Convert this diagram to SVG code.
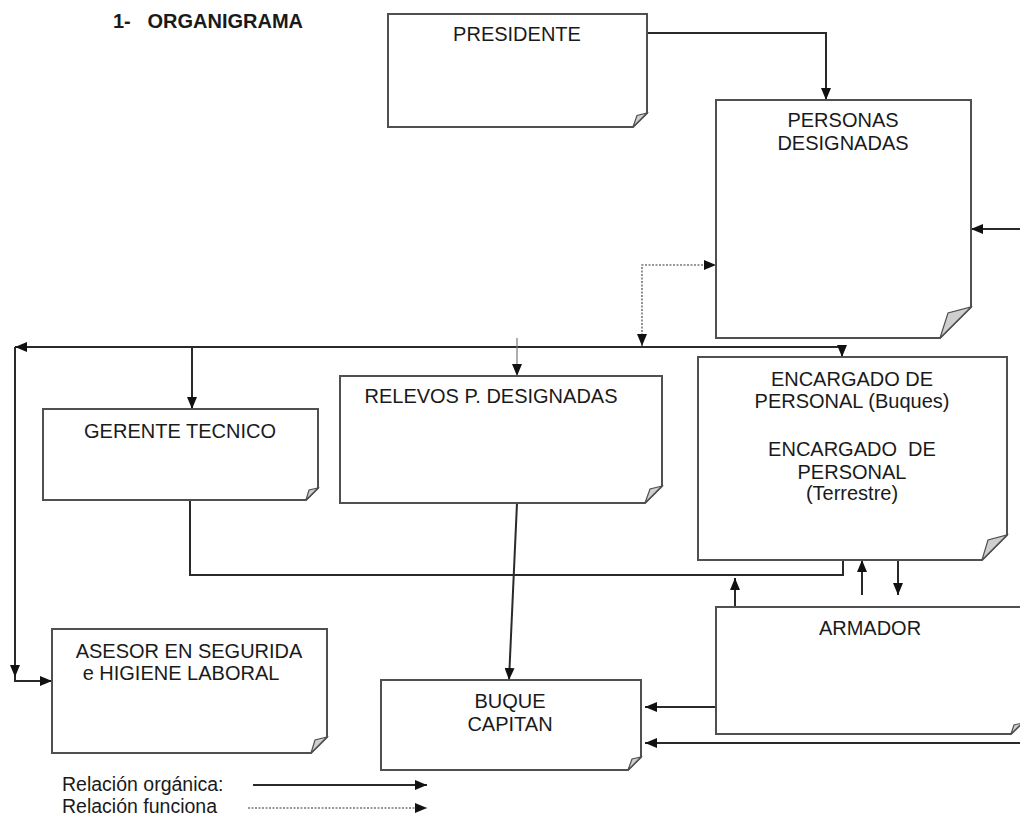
<svg xmlns="http://www.w3.org/2000/svg" width="1020" height="818" viewBox="0 0 1020 818">
<defs>
<style>
.box{fill:#fff;stroke:#505050;stroke-width:2;stroke-linejoin:miter}
.fold{fill:#cfcfcf;stroke:#505050;stroke-width:1.2}
.t{font-family:"Liberation Sans",Arial,sans-serif;font-size:20px;fill:#1a1a1a;text-anchor:middle}
.lg{font-family:"Liberation Sans",Arial,sans-serif;font-size:19.5px;fill:#1a1a1a}
.c{fill:none;stroke:#2a2a2a;stroke-width:2}
.thin{fill:none;stroke:#777;stroke-width:1.2}
.dot{fill:none;stroke:#777;stroke-width:1.6;stroke-dasharray:2 1.5}
</style>
<marker id="ah" markerUnits="userSpaceOnUse" markerWidth="12" markerHeight="10" viewBox="0 0 12 10" refX="12" refY="5" orient="auto-start-reverse">
<path d="M0,0 L12,5 L0,10 Z" fill="#111"/>
</marker>
</defs>
<rect width="1020" height="818" fill="#fff"/>
<text x="113" y="28" style="font-family:'Liberation Sans',Arial,sans-serif;font-size:20px;font-weight:bold;fill:#1a1a1a" xml:space="preserve">1-   ORGANIGRAMA</text>

<g id="connectors">
<path class="c" d="M647,33 H826 V100" marker-end="url(#ah)"/>
<path class="c" d="M1020,229 H971" marker-end="url(#ah)"/>
<path class="dot" d="M642,346 V265 H716" marker-start="url(#ah)" marker-end="url(#ah)"/>
<path class="c" d="M842,347 H15" marker-end="url(#ah)"/>
<path class="c" d="M15,347 V677" marker-end="url(#ah)"/>
<path class="c" d="M15,677 V681 H52" marker-end="url(#ah)"/>
<path class="c" d="M192,347 V409" marker-end="url(#ah)"/>
<path class="c" d="M842,347 V357" marker-end="url(#ah)"/>
<path class="thin" d="M517,338 V376" marker-end="url(#ah)"/>
<path class="c" d="M190,500 V575 H843 V560"/>
<path class="c" d="M517,503 L509,680" marker-end="url(#ah)"/>
<path class="c" d="M862,595 V560" marker-end="url(#ah)"/>
<path class="c" d="M898,560 V595" marker-end="url(#ah)"/>
<path class="c" d="M735,613 V578" marker-end="url(#ah)"/>
<path class="c" d="M716,707 H645" marker-end="url(#ah)"/>
<path class="c" d="M1020,743 H645" marker-end="url(#ah)"/>
</g>

<g id="presidente">
<path class="box" d="M388,14 H647 V113 L633,127 H388 Z"/>
<polygon class="fold" points="633,127 647,113 637,115.5"/>
<text class="t" x="517" y="41">PRESIDENTE</text>
</g>

<g id="personas">
<path class="box" d="M716,100 H971 V307 L940,338 H716 Z"/>
<polygon class="fold" points="940,338 971,307 948,313"/>
<text class="t" x="843" y="127">PERSONAS</text>
<text class="t" x="843" y="150">DESIGNADAS</text>
</g>

<g id="gerente">
<path class="box" d="M43,409 H318 V488 L306,500 H43 Z"/>
<polygon class="fold" points="306,500 318,488 309,490"/>
<text class="t" x="180" y="438">GERENTE TECNICO</text>
</g>

<g id="relevos">
<path class="box" d="M340,376 H662 V486 L645,503 H340 Z"/>
<polygon class="fold" points="645,503 662,486 650,489"/>
<text class="t" x="491" y="403">RELEVOS P. DESIGNADAS</text>
</g>

<g id="encargado">
<path class="box" d="M698,357 H1007 V535 L982,560 H698 Z"/>
<polygon class="fold" points="982,560 1007,535 988,540"/>
<text class="t" x="852" y="386">ENCARGADO DE</text>
<text class="t" x="852" y="408">PERSONAL (Buques)</text>
<text class="t" x="852" y="456" xml:space="preserve">ENCARGADO  DE</text>
<text class="t" x="852" y="479">PERSONAL</text>
<text class="t" x="852" y="500">(Terrestre)</text>
</g>

<g id="armador">
<path class="box" d="M716,607 H1022 V723 L1011,734 H716 Z"/>
<polygon class="fold" points="1011,734 1022,723 1014,725"/>
<text class="t" x="870" y="635">ARMADOR</text>
</g>

<g id="asesor">
<path class="box" d="M52,629 H327 V737 L311,753 H52 Z"/>
<polygon class="fold" points="311,753 327,737 315,740"/>
<text class="t" x="189" y="658">ASESOR EN SEGURIDA</text>
<text class="t" x="181" y="680">e HIGIENE LABORAL</text>
</g>

<g id="buque">
<path class="box" d="M381,680 H641 V757 L628,770 H381 Z"/>
<polygon class="fold" points="628,770 641,757 632,759"/>
<text class="t" x="510" y="708">BUQUE</text>
<text class="t" x="510" y="731">CAPITAN</text>
</g>

<g id="legend">
<text class="lg" x="62" y="791">Relación orgánica:</text>
<text class="lg" x="62" y="813">Relación funciona</text>
<path class="c" d="M253,785 H427" marker-end="url(#ah)"/>
<path class="dot" d="M248,808 H427" marker-end="url(#ah)"/>
</g>
</svg>
